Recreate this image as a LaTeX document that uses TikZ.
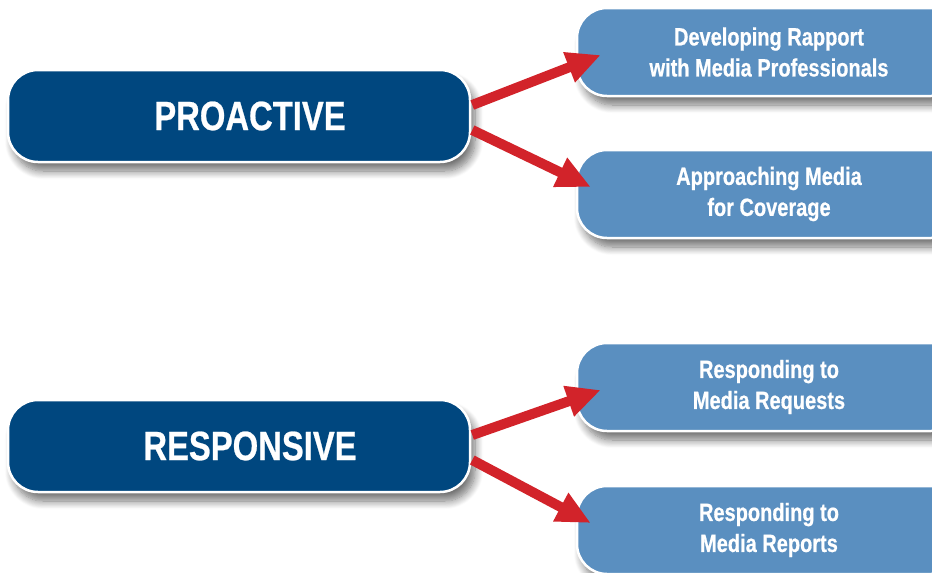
\documentclass[tikz,border=0pt]{standalone}
\usepackage{fontspec}
\setmainfont{Liberation Sans}[FakeStretch=0.8,FakeBold=0.6]
\usetikzlibrary{arrows.meta,shadows.blur}
\definecolor{darkbl}{HTML}{00477F}
\definecolor{lightbl}{HTML}{5A8FC0}
\definecolor{arrred}{HTML}{D2232A}
\begin{document}
\begin{tikzpicture}[x=1pt,y=-1pt,
  mainbox/.style={draw=white,line width=2.5pt,fill=darkbl,rounded corners=30pt,
    minimum width=462pt,minimum height=92pt,text=white,
    font=\fontsize{41}{44}\selectfont\bfseries,
    blur shadow={shadow xshift=5pt,shadow yshift=-9pt,shadow blur steps=10,shadow blur radius=8pt,shadow opacity=55}},
  subbox/.style={draw=white,line width=2.5pt,fill=lightbl,rounded corners=30pt,
    minimum width=384pt,minimum height=88pt,text=white,align=center,
    font=\fontsize{25}{31}\selectfont\bfseries,
    blur shadow={shadow xshift=5pt,shadow yshift=-9pt,shadow blur steps=10,shadow blur radius=8pt,shadow opacity=55}},
  redarrow/.style={draw=arrred,line width=10pt,-{Triangle[width=30pt,length=34pt]}}]
\useasboundingbox (0,0) rectangle (932,573);
\node[mainbox] (pro) at (239,116) {\hspace*{22pt}PROACTIVE};
\node[mainbox] (res) at (239,446) {\hspace*{22pt}RESPONSIVE};
\node[subbox] (dev) at (769,52) {Developing Rapport\\with Media Professionals};
\node[subbox] (app) at (769,194) {Approaching Media\\for Coverage};
\node[subbox] (req) at (769,387) {Responding to\\Media Requests};
\node[subbox] (rep) at (769,530) {Responding to\\Media Reports};
\draw[redarrow] ([xshift=1pt,yshift=11pt]pro.east) -- ([xshift=25pt,yshift=-3pt]dev.west);
\draw[redarrow] ([xshift=1pt,yshift=-14pt]pro.east) -- ([xshift=15pt,yshift=7pt]app.west);
\draw[redarrow] ([xshift=1pt,yshift=11pt]res.east) -- ([xshift=25pt,yshift=-3pt]req.west);
\draw[redarrow] ([xshift=1pt,yshift=-14pt]res.east) -- ([xshift=15pt,yshift=7pt]rep.west);
\end{tikzpicture}
\end{document}
